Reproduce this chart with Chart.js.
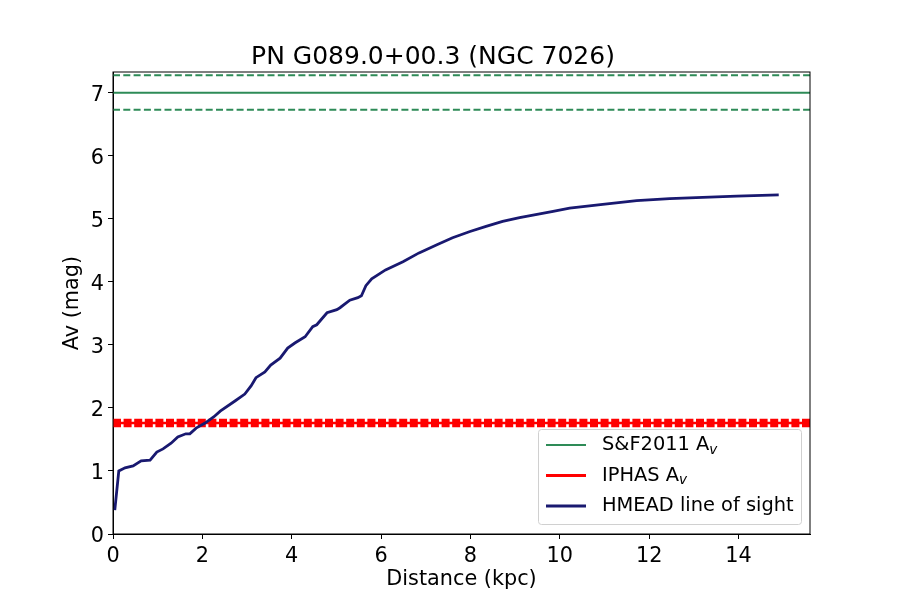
<!DOCTYPE html>
<html>
<head>
<meta charset="utf-8">
<script src="https://cdn.jsdelivr.net/npm/chart.js@4/dist/chart.umd.min.js"></script>
<style>
  html, body { margin: 0; padding: 0; background: #fff; }
  #wrap { width: 900px; height: 600px; }
</style>
</head>
<body>
<div id="wrap"><canvas id="grafico" width="900" height="600"></canvas></div>
<script>
// HMEAD line of sight
const distancia = [0.04, 0.13, 0.27, 0.45, 0.63, 0.83, 0.98, 1.12, 1.30, 1.45, 1.63, 1.72, 1.86,
    2.06, 2.26, 2.40, 2.73, 2.95, 3.09, 3.20, 3.40, 3.53, 3.74, 3.91, 4.07, 4.30, 4.47, 4.56,
    4.79, 5.01, 5.08, 5.30, 5.48, 5.56, 5.66, 5.79, 6.10, 6.49, 6.85, 7.25, 7.60, 7.99, 8.35,
    8.72, 9.10, 9.49, 9.85, 10.22, 10.96, 11.72, 12.46, 13.2, 13.96, 14.9];
const avLinha = [0.38, 1.00, 1.05, 1.08, 1.16, 1.17, 1.30, 1.35, 1.44, 1.54, 1.59, 1.59, 1.68,
    1.76, 1.86, 1.95, 2.11, 2.22, 2.35, 2.48, 2.57, 2.68, 2.79, 2.95, 3.03, 3.13, 3.29, 3.32,
    3.51, 3.56, 3.59, 3.71, 3.75, 3.78, 3.94, 4.05, 4.19, 4.32, 4.46, 4.59, 4.70, 4.80, 4.88,
    4.96, 5.02, 5.07, 5.12, 5.17, 5.23, 5.29, 5.32, 5.34, 5.36, 5.38];

// linhas horizontais
const sfAv = 7.0;
const sfAvErro = [6.73, 7.28];
const iphasAv = 1.76;
const iphasAvErro = [1.72, 1.80];

const xLimite = [0, 15.6];
const yLimite = [0, 7.33];
const xTicks = [0, 2, 4, 6, 8, 10, 12, 14];
const yTicks = [0, 1, 2, 3, 4, 5, 6, 7];

const FONTE = "'DejaVu Sans', sans-serif";
const VERDE = '#2e8b57';
const VERMELHO = '#ff0000';
const AZUL = '#191970';

const horizontal = (y) => xLimite.map(x => ({ x: x, y: y }));

const legendaItens = [
    { texto: 'S&F2011 A', sub: 'v', cor: VERDE, largura: 2 },
    { texto: 'IPHAS A', sub: 'v', cor: VERMELHO, largura: 3 },
    { texto: 'HMEAD line of sight', sub: '', cor: AZUL, largura: 2.8 }
];

const molduraELegenda = {
    id: 'molduraELegenda',
    afterDraw(chart) {
        const ctx = chart.ctx;
        const a = chart.chartArea;
        ctx.save();
        ctx.strokeStyle = '#000';
        ctx.lineWidth = 1;
        ctx.strokeRect(a.left, a.top, a.right - a.left, a.bottom - a.top);

        // legenda (canto inferior direito)
        const bx = 538, by = 429, bw = 263, bh = 95;
        ctx.beginPath();
        ctx.roundRect(bx + 0.5, by + 0.5, bw, bh, 3);
        ctx.fillStyle = 'rgba(255,255,255,0.8)';
        ctx.fill();
        ctx.strokeStyle = '#d0d0d0';
        ctx.stroke();

        legendaItens.forEach((item, i) => {
            const y = 445 + i * 30.5;
            ctx.beginPath();
            ctx.strokeStyle = item.cor;
            ctx.lineWidth = item.largura;
            ctx.moveTo(546, y);
            ctx.lineTo(586, y);
            ctx.stroke();

            ctx.fillStyle = '#000';
            ctx.textBaseline = 'middle';
            ctx.textAlign = 'left';
            ctx.font = '19.4px ' + FONTE;
            ctx.fillText(item.texto, 602, y);
            if (item.sub) {
                const w = ctx.measureText(item.texto).width;
                ctx.font = 'italic 13.6px ' + FONTE;
                ctx.fillText(item.sub, 602 + w, y + 5);
            }
        });
        ctx.restore();
    }
};

new Chart(document.getElementById('grafico'), {
    type: 'line',
    data: {
        datasets: [
            { data: distancia.map((d, i) => ({ x: d, y: avLinha[i] })), borderColor: AZUL, borderWidth: 2.8 },
            { data: horizontal(iphasAv), borderColor: VERMELHO, borderWidth: 2.5 },
            { data: horizontal(iphasAvErro[0]), borderColor: VERMELHO, borderWidth: 3.5, borderDash: [8, 2.6] },
            { data: horizontal(iphasAvErro[1]), borderColor: VERMELHO, borderWidth: 3.5, borderDash: [8, 2.6] },
            { data: horizontal(sfAv), borderColor: VERDE, borderWidth: 2 },
            { data: horizontal(sfAvErro[0]), borderColor: VERDE, borderWidth: 2, borderDash: [7, 3.3] },
            { data: horizontal(sfAvErro[1]), borderColor: VERDE, borderWidth: 2, borderDash: [7, 3.3] }
        ]
    },
    options: {
        responsive: false,
        animation: false,
        devicePixelRatio: 1,
        layout: { padding: { left: 56, right: 90, top: 0, bottom: 0 } },
        elements: { point: { radius: 0 }, line: { tension: 0, fill: false, borderCapStyle: 'butt' } },
        plugins: {
            legend: { display: false },
            tooltip: { enabled: false },
            title: {
                display: true,
                text: 'PN G089.0+00.3 (NGC 7026)',
                color: '#000',
                font: { family: FONTE, size: 25, weight: 'normal', lineHeight: 1.12 },
                padding: { top: 43, bottom: 1 }
            }
        },
        scales: {
            x: {
                type: 'linear',
                min: xLimite[0],
                max: xLimite[1],
                afterBuildTicks: (s) => { s.ticks = xTicks.map(v => ({ value: v })); },
                afterFit: (s) => { s.height = 66; },
                grid: { display: true, drawOnChartArea: false, drawTicks: true, tickLength: 5, color: '#000' },
                border: { display: true, color: '#000', width: 1 },
                ticks: { color: '#000', padding: 5, maxRotation: 0, font: { family: FONTE, size: 20.8 } },
                title: {
                    display: true, text: 'Distance (kpc)', color: '#000',
                    font: { family: FONTE, size: 20.8 }, padding: { top: 0, bottom: 8 }
                }
            },
            y: {
                type: 'linear',
                min: yLimite[0],
                max: yLimite[1],
                afterBuildTicks: (s) => { s.ticks = yTicks.map(v => ({ value: v })); },
                afterFit: (s) => { s.width = 57; },
                grid: { display: true, drawOnChartArea: false, drawTicks: true, tickLength: 5, color: '#000' },
                border: { display: true, color: '#000', width: 1 },
                ticks: { color: '#000', padding: 4, labelOffset: 3, font: { family: FONTE, size: 20.8 } },
                title: {
                    display: true, text: 'Av (mag)', color: '#000',
                    font: { family: FONTE, size: 20.8 }, padding: { top: 4, bottom: 0 }
                }
            }
        }
    },
    plugins: [molduraELegenda]
});
</script>
</body>
</html>
